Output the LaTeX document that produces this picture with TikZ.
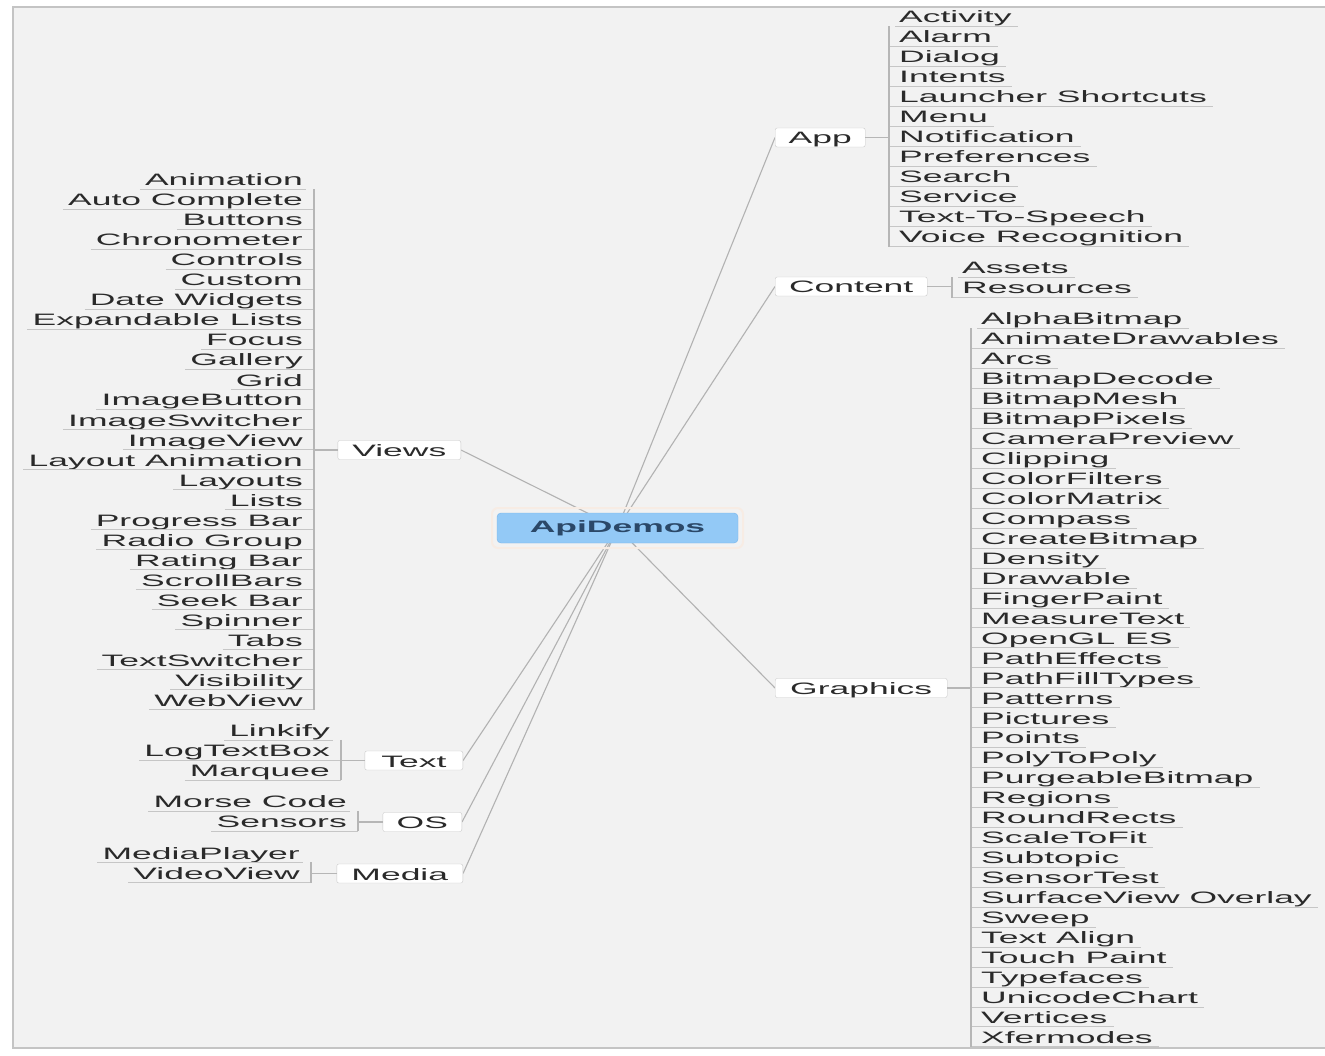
\documentclass[tikz,border=0pt]{standalone}
\usepackage{fontspec}
\setmainfont{Liberation Sans}[FakeStretch=2.15]
\usetikzlibrary{calc}
\pgfdeclarelayer{bg}
\pgfdeclarelayer{links}
\pgfsetlayers{bg,links,main}

\definecolor{paper}{HTML}{F2F2F2}
\definecolor{framegray}{HTML}{C4C4C4}
\definecolor{ink}{HTML}{2A2A2A}
\definecolor{ruleline}{HTML}{C6C6C6}
\definecolor{spinegray}{HTML}{B6B6B6}
\definecolor{boxline}{HTML}{CACACA}
\definecolor{branchgray}{HTML}{B2B2B2}
\definecolor{rootfill}{HTML}{93C9F6}
\definecolor{rootline}{HTML}{78B4EA}
\definecolor{rootink}{HTML}{2B4868}
\definecolor{halo}{HTML}{F7ECE4}

\tikzset{
  leaf/.style={inner xsep=0pt, inner ysep=0pt, text height=13pt, text depth=0pt,
    minimum height=20pt, text=ink},
  uline/.style={draw=ruleline, line width=1pt},
  spine/.style={draw=spinegray, line width=1.2pt},
  topic/.style={draw=boxline, fill=white, rounded corners=2pt, inner xsep=0pt,
    inner ysep=0pt, minimum height=19pt, text height=13pt, text depth=0pt, text=ink},
  branch/.style={draw=branchgray, line width=1.1pt},
  root/.style={draw=rootline, fill=rootfill, rounded corners=4pt, minimum width=241pt,
    minimum height=30pt, inner sep=0pt, text=rootink, font=\fontsize{16.5}{18}\selectfont\bfseries},
}

% leaves hanging to the right of a spine: prefix, text x, first row y, row pitch, items
\newcommand\rightleaves[5]{%
  \foreach \t [count=\i] in {#5} {
    \node[leaf, anchor=west] (#1\i) at (#2, {#3+#4*(\i-1)}) {\t};
    \ifnum\i=1
      \draw[uline] ($(#1\i.south west)+(-4pt,0)$) -- ($(#1\i.south east)+(6pt,0)$);
    \else
      \draw[uline] ($(#1\i.south west)+(-10pt,0)$) -- ($(#1\i.south east)+(6pt,0)$);
    \fi
    \xdef\lastleaf{\i}
  }
  \coordinate (#1spine) at ($(#12.west)+(-10pt,0)$);
  \draw[spine] ($(#12.north west)+(-10pt,0)$) -- ($(#1\lastleaf.south west)+(-10pt,0)$);
}

% leaves hanging to the left of a spine: prefix, text right x, first row y, row pitch, items
\newcommand\leftleaves[5]{%
  \foreach \t [count=\i] in {#5} {
    \node[leaf, anchor=east] (#1\i) at (#2, {#3+#4*(\i-1)}) {\t};
    \ifnum\i=1
      \draw[uline] ($(#1\i.south west)+(-5pt,0)$) -- ($(#1\i.south east)+(3pt,0)$);
    \else
      \draw[uline] ($(#1\i.south west)+(-5pt,0)$) -- ($(#1\i.south east)+(11pt,0)$);
    \fi
    \xdef\lastleaf{\i}
  }
  \coordinate (#1spine) at ($(#12.east)+(11pt,0)$);
  \draw[spine] ($(#12.north east)+(11pt,0)$) -- ($(#1\lastleaf.south east)+(11pt,0)$);
}

\begin{document}
\begin{tikzpicture}[x=1pt, y=-1pt, font=\fontsize{16.5}{18}\selectfont]
\useasboundingbox (0,0) rectangle (1325,1056);

\begin{pgfonlayer}{bg}
  \fill[white] (0,0) rectangle (1325,1056);
  \fill[paper] (13,7) rectangle (1325,1048);
  \draw[draw=framegray, line width=1.6pt] (1325,7) -- (13,7) -- (13,1048) -- (1325,1048);
\end{pgfonlayer}

% central topic
\draw[halo, line width=2pt, rounded corners=6pt] (492,508) rectangle (743,548);
\node[root] (root) at (617.5,528) {ApiDemos};

% main branches
\node[topic, minimum width=90pt, anchor=west]  (app)      at (775,137.5) {App};
\node[topic, minimum width=152pt, anchor=west] (content)  at (775,286.5) {Content};
\node[topic, minimum width=172pt, anchor=west] (graphics) at (775,688)   {Graphics};
\node[topic, minimum width=123pt, anchor=east] (views)    at (461,450)   {Views};
\node[topic, minimum width=98pt, anchor=east]  (text)     at (463,760.5) {Text};
\node[topic, minimum width=79pt, anchor=east]  (os)       at (462,822)   {OS};
\node[topic, minimum width=126pt, anchor=east] (media)    at (463,873.5) {Media};

% sub-topics
\rightleaves{ap}{899}{16.5}{20}{Activity, Alarm, Dialog, Intents, Launcher Shortcuts, Menu,
  Notification, Preferences, Search, Service, Text-To-Speech, Voice Recognition}
\rightleaves{co}{962}{267.5}{20}{Assets, Resources}
\rightleaves{gr}{981}{318.5}{19.95}{AlphaBitmap, AnimateDrawables, Arcs, BitmapDecode,
  BitmapMesh, BitmapPixels, CameraPreview, Clipping, ColorFilters, ColorMatrix, Compass,
  CreateBitmap, Density, Drawable, FingerPaint, MeasureText, OpenGL ES, PathEffects,
  PathFillTypes, Patterns, Pictures, Points, PolyToPoly, PurgeableBitmap, Regions,
  RoundRects, ScaleToFit, Subtopic, SensorTest, SurfaceView Overlay, Sweep, Text Align,
  Touch Paint, Typefaces, UnicodeChart, Vertices, Xfermodes}
\leftleaves{vi}{303}{179.5}{20}{Animation, Auto Complete, Buttons, Chronometer, Controls,
  Custom, Date Widgets, Expandable Lists, Focus, Gallery, Grid, ImageButton, ImageSwitcher,
  ImageView, Layout Animation, Layouts, Lists, Progress Bar, Radio Group, Rating Bar,
  ScrollBars, Seek Bar, Spinner, Tabs, TextSwitcher, Visibility, WebView}
\leftleaves{te}{330}{730}{20}{Linkify, LogTextBox, Marquee}
\leftleaves{os}{347}{801}{20}{Morse Code, Sensors}
\leftleaves{me}{300}{852.5}{20}{MediaPlayer, VideoView}

% branch to spine joins
\draw[spine] (app.east) -- (apspine |- app.east);
\draw[spine] (content.east) -- (cospine |- content.east);
\draw[spine] (graphics.east) -- (grspine |- graphics.east);
\draw[spine] (views.west) -- (vispine |- views.west);
\draw[spine] (text.west) -- (tespine |- text.west);
\draw[spine] (os.west) -- (osspine |- os.west);
\draw[spine] (media.west) -- (mespine |- media.west);

% connectors from the central topic
\begin{pgfonlayer}{links}
  \foreach \n in {app, content, graphics} \draw[branch] (root.center) -- (\n.west);
  \foreach \n in {views, text, os, media} \draw[branch] (root.center) -- (\n.east);
\end{pgfonlayer}
\end{tikzpicture}
\end{document}
